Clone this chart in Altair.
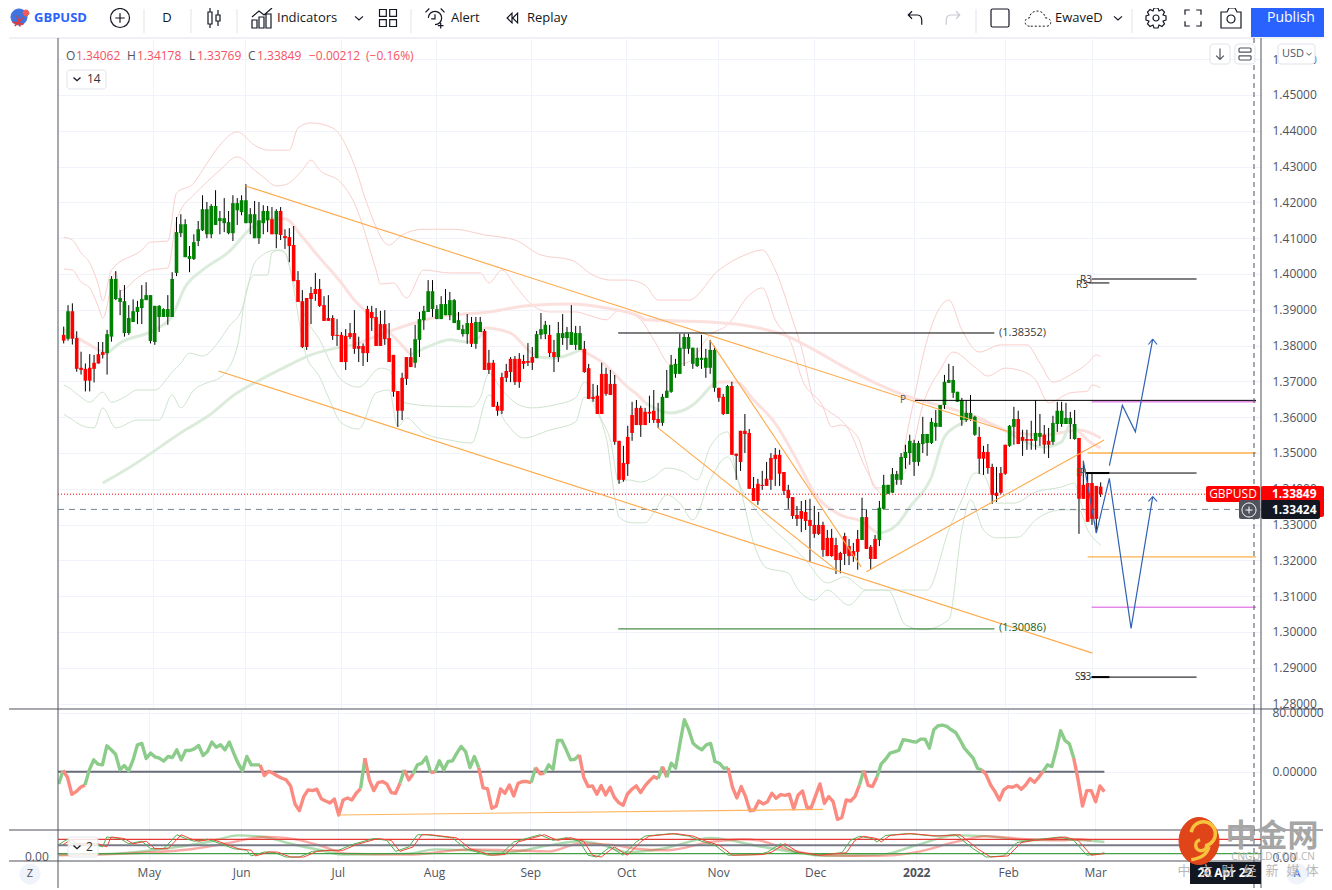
import json
import altair as alt
import pandas as pd

FONT = "Open Sans"
AXC = "#50535e"
GRID = "#f0f3fa"

# ---------- candles (prices x 10000) ----------
high = [13853,13913,13918,13840,13783,13750,13776,13774,13810,13810,
13844,13994,14008,13955,13969,13913,13929,13925,13969,13977,
13941,13911,13913,13904,13941,14005,14159,14167,14153,14078,
14111,14148,14220,14201,14195,14234,14176,14212,14176,14220,
14212,14220,14251,14184,14204,14201,14192,14190,14187,14181,
14187,14125,14128,14134,14008,13955,13933,13964,14003,13986,
13938,13941,13885,13874,13838,13846,13863,13899,13825,13806,
13911,13911,13905,13897,13899,13863,13774,13673,13724,13768,
13793,13858,13894,13911,13983,13983,13913,13938,13958,13950,
13930,13894,13858,13888,13880,13880,13880,13846,13788,13760,
13643,13724,13749,13768,13771,13779,13774,13807,13796,13841,
13891,13869,13858,13816,13866,13888,13852,13913,13855,13855,
13813,13749,13693,13690,13752,13738,13732,13718,13534,13520,
13576,13643,13648,13632,13626,13660,13676,13640,13665,13732,
13774,13763,13833,13833,13833,13794,13794,13830,13791,13816,
13799,13682,13665,13690,13699,13498,13562,13609,13567,13433,
13428,13450,13475,13500,13514,13509,13447,13411,13377,13352,
13366,13369,13372,13352,13335,13308,13285,13288,13263,13224,
13277,13260,13249,13285,13375,13341,13243,13271,13366,13439,
13411,13458,13450,13500,13523,13551,13537,13534,13601,13553,
13598,13620,13634,13718,13749,13743,13671,13654,13648,13662,
13604,13573,13520,13525,13470,13461,13461,13523,13578,13629,
13618,13565,13565,13590,13648,13609,13578,13570,13604,13643,
13643,13640,13615,13620,13542,13478,13442,13442,13408,13418]
body_top = [13830,13896,13896,13821,13738,13735,13738,13752,13776,13782,
13832,13986,13986,13933,13924,13877,13896,13908,13930,13941,
13941,13911,13911,13902,13902,13986,14117,14139,14139,14050,
14089,14125,14181,14181,14190,14190,14156,14156,14145,14198,
14198,14206,14206,14167,14167,14150,14176,14176,14153,14176,
14176,14106,14103,14081,13983,13924,13933,13947,13958,13958,
13913,13877,13877,13830,13830,13827,13835,13835,13799,13799,
13902,13894,13880,13860,13860,13821,13774,13673,13710,13768,
13768,13818,13874,13897,13952,13952,13902,13916,13916,13927,
13927,13871,13846,13863,13863,13866,13866,13841,13752,13752,
13632,13712,13729,13763,13763,13763,13757,13757,13768,13832,
13846,13858,13830,13782,13835,13835,13838,13838,13835,13835,
13791,13737,13657,13660,13721,13721,13693,13693,13534,13472,
13545,13606,13626,13626,13615,13615,13618,13595,13657,13674,
13746,13749,13794,13824,13824,13794,13766,13766,13766,13788,
13788,13682,13657,13687,13687,13498,13562,13562,13556,13402,
13414,13411,13428,13486,13495,13495,13447,13397,13377,13327,
13338,13335,13313,13299,13299,13299,13263,13263,13243,13221,
13268,13240,13226,13260,13321,13321,13238,13260,13347,13411,
13411,13441,13441,13489,13503,13534,13528,13528,13553,13553,
13587,13584,13634,13699,13704,13704,13671,13648,13612,13612,
13601,13545,13503,13503,13461,13389,13444,13523,13576,13595,
13595,13545,13539,13539,13556,13556,13551,13534,13584,13618,
13618,13598,13598,13581,13542,13411,13416,13416,13408,13406]
body_bottom = [13814,13819,13819,13735,13732,13702,13702,13735,13750,13774,
13779,13825,13930,13922,13835,13835,13866,13894,13905,13927,
13813,13810,13880,13880,13880,13880,14003,14114,14047,14042,
14042,14092,14122,14111,14111,14137,14148,14142,14114,14114,
14178,14173,14142,14142,14100,14100,14142,14150,14111,14111,
14109,14100,14078,13980,13922,13796,13796,13930,13944,13911,
13869,13869,13827,13827,13754,13754,13824,13791,13791,13779,
13779,13877,13799,13799,13818,13754,13671,13618,13618,13707,
13740,13752,13816,13871,13894,13902,13874,13874,13885,13885,
13863,13844,13832,13832,13805,13805,13838,13732,13732,13629,
13618,13618,13710,13726,13698,13698,13749,13752,13752,13765,
13830,13832,13779,13768,13768,13821,13821,13802,13802,13788,
13726,13651,13651,13609,13609,13665,13662,13531,13425,13425,
13469,13556,13578,13578,13578,13610,13592,13584,13584,13654,
13671,13721,13721,13791,13791,13749,13743,13760,13738,13738,
13682,13654,13609,13609,13495,13492,13475,13553,13400,13366,
13366,13408,13408,13425,13483,13442,13394,13374,13324,13316,
13316,13310,13296,13274,13274,13229,13212,13212,13201,13201,
13218,13212,13212,13224,13257,13232,13204,13204,13257,13344,
13386,13389,13425,13425,13486,13500,13475,13475,13525,13528,
13528,13573,13573,13634,13696,13668,13643,13592,13592,13595,
13551,13484,13484,13458,13383,13380,13389,13442,13520,13573,
13525,13534,13534,13534,13534,13545,13523,13523,13531,13581,
13581,13581,13581,13539,13372,13372,13308,13316,13316,13385]
low = [13806,13814,13803,13727,13719,13672,13672,13697,13750,13764,
13719,13811,13927,13885,13825,13830,13866,13860,13860,13927,
13806,13802,13838,13880,13858,13880,13994,14103,14047,14005,
14039,14078,14120,14100,14100,14137,14111,14117,14111,14092,
14137,14164,14142,14111,14100,14084,14111,14117,14111,14072,
14095,14070,14033,13980,13922,13793,13788,13860,13925,13908,
13869,13869,13816,13799,13754,13732,13818,13777,13754,13743,
13754,13841,13799,13799,13802,13754,13657,13573,13592,13690,
13740,13738,13768,13844,13894,13880,13874,13874,13885,13871,
13863,13844,13825,13805,13796,13791,13838,13732,13721,13629,
13604,13609,13698,13698,13690,13682,13735,13743,13732,13765,
13818,13818,13768,13726,13754,13802,13788,13802,13788,13788,
13724,13651,13643,13609,13609,13660,13662,13523,13414,13420,
13436,13534,13579,13545,13578,13584,13584,13570,13576,13654,
13668,13710,13721,13743,13777,13735,13740,13735,13710,13721,
13671,13643,13606,13609,13495,13425,13450,13500,13400,13366,
13355,13397,13408,13397,13408,13408,13383,13344,13316,13296,
13279,13285,13196,13263,13271,13210,13212,13210,13162,13164,
13187,13187,13196,13174,13257,13232,13174,13204,13240,13344,
13386,13389,13411,13411,13456,13467,13436,13464,13500,13492,
13525,13534,13573,13623,13696,13654,13643,13576,13587,13590,
13548,13442,13439,13442,13358,13363,13386,13439,13517,13523,
13525,13492,13509,13509,13509,13520,13498,13486,13523,13559,
13573,13581,13539,13537,13274,13372,13308,13299,13277,13377]
candle_colors = (["#ff0000"]*1+["#008000"]*1+["#ff0000"]*8+["#008000"]*38+["#ff0000"]*1+["#008000"]*1
    +["#ff0000"]*31+["#008000"]*13+["#ff0000"]*1+["#008000"]*2+["#ff0000"]*12+["#008000"]*3+["#ff0000"]*2
    +["#008000"]*6+["#ff0000"]*18+["#008000"]*13+["#ff0000"]*2+["#008000"]*1+["#ff0000"]*30+["#008000"]*1
    +["#ff0000"]*3+["#008000"]*23+["#ff0000"]*7+["#008000"]*2+["#ff0000"]*4+["#008000"]*2+["#ff0000"]*2
    +["#008000"]*6+["#ff0000"]*6)

# ---------- envelope lines: bar number, price x 10000 ----------
up_out_b = [0,2,4,6,8,9,11,18,20,24,26,30,32,36,40,44,47,52,54,57,62,67,70,75,78,83,90,97,104,110,117,122,126,130,134,137,144,151,157,161,164,168,170,173,176,181,185,189,192,195,199,204,207,211,216,222,225,228,232,236,238,239]
up_out_p = [14103,14095,14059,14031,13969,13925,14011,14067,14089,14092,14226,14254,14290,14360,14397,14360,14346,14346,14408,14422,14408,14304,14193,14081,14109,14125,14125,14109,14095,14053,14039,13997,13983,13983,13969,13927,13927,14011,14053,14067,14011,13872,13796,13648,13620,13564,13453,13383,13425,13592,13816,13927,13844,13782,13802,13802,13751,13698,13718,13751,13774,13768]
up_in_b = [0,2,4,6,8,9,12,13,17,20,24,26,27,30,33,36,40,44,46,49,51,55,57,59,64,67,72,73,76,79,83,89,96,98,101,104,108,112,118,121,125,128,133,136,140,144,149,153,158,161,164,168,170,175,177,179,183,185,187,191,195,198,202,205,210,213,217,220,224,227,232,236,237,239]
up_in_p = [14014,14011,13978,13961,13908,13877,14006,13953,13989,14011,14017,14151,14179,14221,14257,14290,14327,14290,14271,14246,14249,14290,14318,14290,14254,14198,14011,13972,13975,13933,14011,14003,14003,13975,14011,13969,13913,13894,13894,13885,13872,13899,13872,13816,13746,13754,13830,13858,13941,13961,13872,13796,13712,13629,13573,13578,13545,13472,13402,13411,13481,13634,13732,13782,13740,13715,13737,13732,13704,13640,13668,13673,13690,13682]
lo_in_b = [0,1,4,6,9,11,14,17,21,25,27,29,32,36,38,41,44,45,49,51,53,56,59,62,64,68,73,75,78,85,94,96,98,101,105,108,113,118,120,124,126,128,130,133,136,139,143,146,149,153,155,159,162,167,171,176,180,185,192,199,204,207,210,212,215,219,224,230,233,234,236,239]
lo_in_p = [13690,13684,13656,13642,13670,13642,13656,13676,13676,13726,13751,13779,13771,13816,13852,13899,14031,14045,14067,14059,13975,13872,13816,13740,13704,13684,13737,13732,13642,13631,13629,13654,13723,13676,13634,13626,13634,13654,13698,13592,13536,13416,13425,13419,13433,13458,13447,13425,13517,13559,13444,13349,13305,13249,13201,13137,13154,13117,13117,13117,13285,13369,13444,13439,13360,13360,13391,13405,13416,13377,13321,13299]
lo_out_b = [0,1,5,7,9,12,17,22,25,27,30,33,36,40,42,44,47,48,50,51,56,59,61,64,68,72,75,77,79,83,89,94,98,102,106,112,118,120,125,127,128,131,134,136,139,142,145,149,153,156,159,162,167,169,173,176,181,185,190,194,198,204,207,209,212,215,220,224,230,234,236,239]
lo_out_p = [13609,13601,13573,13570,13626,13570,13592,13592,13662,13626,13676,13696,13710,13796,13947,13997,13997,14059,14067,14059,13768,13712,13656,13584,13567,13668,13676,13573,13598,13556,13536,13528,13662,13584,13542,13564,13587,13656,13545,13377,13321,13305,13305,13333,13383,13360,13313,13425,13489,13397,13249,13179,13165,13123,13089,13117,13075,13117,13117,13020,13006,13034,13285,13369,13285,13263,13265,13313,13341,13341,13285,13243]

# mid line, alternating pink / green stretches
mid_pink = [
    ([0,4,8,10],[13844,13816,13788,13777]),
    ([47,51,55,59,64,67,70,75,80],[14154,14154,14103,14045,13975,13927,13891,13838,13774]),
    ([96,97,103,107,109],[13825,13849,13835,13788,13768]),
    ([119,124,130,133,134],[13788,13754,13684,13654,13640]),
    ([149,151,155,159,164,169,173,179,184,187],[13685,13698,13698,13648,13583,13480,13388,13327,13308,13280]),
    ([209,212,218],[13600,13590,13556]),
    ([234,236,239],[13560,13536,13514]),
]
mid_green = [
    ([10,13,21,25,28,32,38,44,47],[13777,13807,13844,13883,13964,14011,14061,14137,14154]),
    ([80,85,89,93,96],[13774,13802,13816,13810,13825]),
    ([109,113,119],[13768,13765,13788]),
    ([134,140,145,149],[13640,13612,13634,13685]),
    ([187,188,192,195,200,203,207,209],[13280,13277,13299,13349,13433,13545,13584,13600]),
    ([218,226,230,232,234],[13556,13517,13531,13578,13560]),
]
long_green_b = [9,16,28,33,40,44,51,57,67]
long_green_p = [13416,13466,13564,13601,13668,13696,13740,13774,13802]
long_pink_b = [67,76,86,98,108,117,125,133,134,149,156,166,173,179,187,195,203,211,218,226,234,239]
long_pink_p = [13802,13844,13880,13894,13913,13916,13905,13880,13872,13866,13858,13830,13788,13746,13696,13656,13629,13598,13559,13550,13564,13542]

# ---------- drawn objects: bar, bar2, price, price2 ----------
trend_lines = [(41.9,217.4,14246,13561),(35.7,237.1,13729,12941),(185,239.8,13168,13536),
               (149,183.8,13814,13182),(136.9,178.1,13571,13173)]
levels = [(127.8,214.5,1.38352,"#000000",1),(127.8,214.5,1.30086,"#1b6e1b",1),
          (236,274.8,1.35000,"#ffb04a",1.5),(236,274.8,1.32100,"#ffb04a",1.3),
          (236.9,274.8,1.30690,"#e48ae8",1.5),(236.9,274.8,1.36440,"#e48ae8",2),
          (196.2,274.8,1.36470,"#000000",1),(235.5,261.1,1.34440,"#000000",1),(235.5,241,1.34440,"#000000",2),
          (236.9,261.1,1.39860,"#000000",1),(236.2,241,1.39750,"#000000",1),
          (236.9,261.1,1.28740,"#000000",1),(236.9,241,1.28740,"#000000",2)]
wave_a_b = [241,244,247,251]
wave_a_p = [13465,13633,13559,13818]
wave_b_b = [235,238,241,246,251]
wave_b_p = [13478,13276,13429,13010,13378]
arrow_heads = [(250,251,13803,13818),(252,251,13803,13818),(250,251,13365,13378),(252,251,13365,13378)]

# ---------- oscillator ----------
osc_values = [-16.3,1.8,-7.3,-30.3,-26.7,-20.8,-17.7,2.7,16.2,10.4,9.5,35.2,29.8,23.9,2.7,8.6,1.3,16.2,36.6,38.4,
18,25.3,20.3,18.5,14.4,20.8,19.4,29.8,16.2,28.9,28.9,31.2,35.7,22.1,27.5,40.2,33.4,36.6,29.8,40.2,
25.3,11.7,1.3,20.8,9.5,9.5,9.5,-5,0.9,-1.8,-5.5,-8.6,-10.9,-19,-43.4,-52.5,-33.5,-24.4,-25.3,-23.5,
-36.2,-39.4,-42,-36.6,-58.3,-38,-35.3,-38,-28.9,-22.6,18.5,-10.9,-25.3,-14.5,-13.1,-16.3,-28,-28.9,-15.4,2.7,
-10.9,-2.7,9.5,11.7,19.9,-0.9,0,14.9,2.7,14,14.9,25.3,34.3,27.5,5.8,20.8,5.8,-21.7,-22.6,-49.3,
-46.1,-23.1,-28.9,-17.7,-32.6,-15.4,-13.1,-13.1,-14.5,5.8,-2.7,-1.8,9.5,3.6,42.5,42.5,29.8,16.2,17.1,23,
-7.3,-19.9,-19,-30.3,-18.6,-31.2,-20.8,-34.4,-41.6,-45.2,-29.9,-23.5,-19,-28,-19,-12.2,-6.4,-9.1,7.2,-7.3,
11.7,4.9,38.8,70.5,56.9,38.8,33.4,29.8,36.6,38.4,14,11.7,4.9,5.4,-20.8,-35.3,-19.9,-33.5,-52.5,-51.6,
-39.4,-43.4,-40.3,-28.9,-35.7,-30.8,-31.7,-30.3,-50.2,-31.2,-25.8,-47.9,-48.4,-32.1,-16.3,-42.5,-33.5,-40.3,-64.2,-61.5,
-38,-39.4,-33.5,-18.1,1.8,-18.1,-19.9,-7.3,10.8,17.1,25.3,27.1,28.9,43.4,42.5,41.1,40.2,44.3,44.3,32.1,
56.9,62.3,63.2,61.4,56.9,53.3,43.4,32.1,25.3,18.5,4.9,2.7,-4.1,-17.7,-26.7,-38,-24.4,-19.9,-20.8,-18.1,
-23.5,-17.7,-9.1,-14.1,-7.3,0.9,9.5,7.2,29.8,55.6,42.5,37.9,18.5,-10.9,-46.1,-25.3,-25.3,-40.3,-19,-26.7]
osc_stretches = [(0,1,"g"),(1,6,"r"),(6,46,"g"),(46,69,"r"),(69,70,"g"),(70,78,"r"),(78,79,"g"),(79,81,"r"),
                 (81,85,"g"),(85,86,"r"),(86,96,"g"),(96,108,"r"),(108,109,"g"),(109,111,"r"),(111,119,"g"),
                 (119,137,"r"),(137,138,"g"),(138,139,"r"),(139,153,"g"),(153,183,"r"),(183,184,"g"),
                 (184,187,"r"),(187,211,"g"),(211,225,"r"),(225,232,"g"),(232,239,"r")]

# ---------- stochastic ----------
fast_b = [0,2,3,8,10,11,14,16,19,21,24,27,29,31,34,37,40,43,44,47,49,52,55,58,61,64,67,72,75,77,80,82,84,90,93,98,101,104,110,113,116,119,121,123,126,129,132,134,140,144,147,150,153,160,162,165,168,173,179,181,183,186,187,189,194,200,205,209,212,216,219,222,229,232,235,238,239]
fast_v = [57,81,61,61,47,91,84,61,72,39,39,101,84,72,81,61,39,32,7,24,24,2,2,27,32,32,57,84,76,27,47,101,101,87,39,10,13,69,101,76,88,72,10,2,47,10,69,95,106,95,72,54,10,13,24,61,24,10,21,76,94,84,69,98,106,95,101,39,2,7,66,76,91,76,10,17,21]
fast_red_b = [1,3,4,9,11,12,15,17,20,22,25,28,30,32,35,38,41,44,45,48,50,53,56,59,62,65,68,73,76,78,81,83,85,91,94,99,102,105,111,114,117,120,122,124,127,130,133,135,141,145,148,151,154,161,163,166,169,174,180,182,184,187,188,190,195,201,206,210,213,217,220,223,230,233,236,239]
fast_red_v = [57,81,61,61,47,91,84,61,72,39,39,101,84,72,81,61,39,32,7,24,24,2,2,27,32,32,57,84,76,27,47,101,101,87,39,10,13,69,101,76,88,72,10,2,47,10,69,95,106,95,72,54,10,13,24,61,24,10,21,76,94,84,69,98,106,95,101,39,2,7,66,76,91,76,10,17]
slow_green_b = [0,13,23,35,41,47,53,60,65,80,86,94,103,112,119,124,130,138,149,160,168,175,188,196,205,212,221,229,239]
slow_green_v = [13,17,36,72,98,91,61,32,13,17,36,32,24,54,72,57,24,39,87,50,24,7,13,54,98,95,76,81,69]
slow_red_b = [0,15,31,38,47,52,60,66,80,94,103,112,119,126,132,139,149,156,160,166,175,187,196,205,212,221,229,233,236]
slow_red_v = [10,17,39,61,91,87,51,17,13,36,32,27,61,57,39,32,69,81,76,39,10,7,24,69,95,81,76,81,76]

# ---------- axes ----------
month_bars = [20.6,41.7,63.8,85.8,107.8,129.7,150.7,172.9,196,217,236.9]
month_labels = ["May","Jun","Jul","Aug","Sep","Oct","Nov","Dec","2022","Feb","Mar"]
price_ticks = [1.28,1.29,1.30,1.31,1.32,1.33,1.34,1.35,1.36,1.37,1.38,1.39,1.40,1.41,1.42,1.43,1.44,1.45,1.46]

W = 1203
X0 = 58
xscale = alt.Scale(domain=[-0.16, 274.8], nice=False, zero=False)
one = alt.Data(values=[{"a": 1}])

grid_x = alt.Axis(values=month_bars, labels=False, ticks=False, domain=False, grid=True, gridColor=GRID, title=None)
label_expr = f"{json.dumps(month_labels)}[indexof({json.dumps(month_bars)}, datum.value)]"
time_x = alt.Axis(values=month_bars, labelExpr=label_expr, ticks=False, domain=False, grid=True, gridColor=GRID,
                  labelFontSize=12, labelFont=FONT, labelColor=AXC, labelPadding=6, labelOverlap=False,
                  labelFlush=False, title=None,
                  labelFontWeight={"condition": {"test": "datum.value === 196", "value": "bold"}, "value": "normal"})

def right_axis(values, fmt, grid=True):
    return alt.Axis(orient="right", values=values, format=fmt, grid=grid, gridColor=GRID, domain=False, ticks=False,
                    labelPadding=11, labelFontSize=12, labelFont=FONT, labelColor=AXC, title=None)

MAIN = dict(scale=alt.Scale(domain=[1.27849, 1.46592], nice=False, zero=False), xa=grid_x, ya=right_axis(price_ticks, ".5f"))
OSC = dict(scale=alt.Scale(domain=[-78.6, 85.0], nice=False, zero=False), xa=grid_x, ya=right_axis([0, 80], ".5f"))
STO = dict(scale=alt.Scale(domain=[-15.6, 122], nice=False, zero=False), xa=time_x, ya=right_axis([0], ".2f", False))

def X(panel, field="bar:Q"):
    return alt.X(field, scale=xscale, axis=panel["xa"], title=None)

def Y(panel, field="val:Q"):
    return alt.Y(field, scale=panel["scale"], axis=panel["ya"], title=None)

def ln(b, v, panel, color, width=1.0, opacity=1.0, **kw):
    df = pd.DataFrame({"bar": b, "val": v})
    return alt.Chart(df).mark_line(color=color, strokeWidth=width, opacity=opacity, clip=True, **kw).encode(
        x=X(panel), y=Y(panel))

def price(vals):
    return [p / 10000 for p in vals]

def txt(s, x, y, oy, size=13, color="#131722", align="left", weight="normal", font=FONT, opacity=1.0):
    return alt.Chart(one).mark_text(text=s, fontSize=size, color=color, align=align, baseline="middle",
                                    fontWeight=weight, font=font, opacity=opacity).encode(
        x=alt.value(x - X0), y=alt.value(y - oy))

def box(x1, y1, x2, y2, oy, fill, stroke=None, radius=0, opacity=1.0):
    kw = {"fill": fill, "cornerRadius": radius, "opacity": opacity}
    if stroke:
        kw["stroke"] = stroke
        kw["strokeWidth"] = 1
    return alt.Chart(one).mark_rect(**kw).encode(
        x=alt.value(x1 - X0), x2=alt.value(x2 - X0), y=alt.value(y1 - oy), y2=alt.value(y2 - oy))

def hrule(x1, x2, y, oy, color, width=1):
    return alt.Chart(one).mark_rule(color=color, strokeWidth=width).encode(
        x=alt.value(x1 - X0), x2=alt.value(x2 - X0), y=alt.value(y - oy))

def vrule(x, y1, y2, oy, color, width=1, dash=None):
    kw = {"strokeDash": dash} if dash else {}
    return alt.Chart(one).mark_rule(color=color, strokeWidth=width, **kw).encode(
        x=alt.value(x - X0), y=alt.value(y1 - oy), y2=alt.value(y2 - oy))

def icon(path, x, y, oy, px, color="#131722", sw=1.2, filled=False, dash=None):
    kw = {"strokeDash": dash} if dash else {}
    if filled:
        kw["fill"] = color
        kw["filled"] = True
    else:
        kw["filled"] = False
    return alt.Chart(one).mark_point(shape=path, size=px * px, stroke=color, strokeWidth=sw, opacity=1, **kw).encode(
        x=alt.value(x - X0), y=alt.value(y - oy))

CIRCLE = "M-1 0A1 1 0 1 1 1 0A1 1 0 1 1 -1 0Z"
CIRCLE_PLUS = CIRCLE + " M-0.5 0L0.5 0 M0 -0.5L0 0.5"
CHEV = "M-1 -0.4L0 0.5L1 -0.4"
ROUND = "M-0.8 -1H0.8Q1 -1 1 -0.8V0.8Q1 1 0.8 1H-0.8Q-1 1 -1 0.8V-0.8Q-1 -1 -0.8 -1Z"

# ---------- toolbar panel ----------
T = 8
toolbar = [
    box(8, 8, 1324, 38, T, "#ffffff"),
    hrule(9, 1323, 38, T, "#e0e3eb"),
    icon(CIRCLE, 19, 17, T, 16, "#3f74e0", 1, True),
    icon("M-1 0.2L1 0.6 M-0.2 -1L0.4 1 M-0.6 0.9L0.9 -0.6", 18, 21, T, 11, "#e53935", 1.6),
    icon(CIRCLE, 26, 13, T, 6, "#f05a5a", 1, True),
    txt("GBPUSD", 34, 18, T, 13, "#2962ff", weight="bold"),
    icon(CIRCLE_PLUS, 120, 18, T, 19),
    txt("D", 167, 18, T, 13, "#131722", "center"),
    icon("M-0.6 -0.6H-0.2V0.6H-0.6Z M-0.4 -1V-0.6 M-0.4 0.6V1 M0.2 -0.3H0.6V0.3H0.2Z M0.4 -0.8V-0.3 M0.4 0.3V0.8", 214, 18, T, 20),
    icon("M-1 1V0.2H-0.5V1Z M-0.3 1V-0.1H0.2V1Z M0.4 1V-0.4H0.9V1Z M-1 -0.1L-0.3 -0.7L0.2 -0.3L1 -1", 262, 18, T, 20),
    txt("Indicators", 277, 18, T, 13),
    icon(CHEV, 359, 18, T, 8),
    icon("M-1 -1H-0.2V-0.2H-1Z M0.2 -1H1V-0.2H0.2Z M-1 0.2H-0.2V1H-1Z M0.2 0.2H1V1H0.2Z", 388, 18, T, 17),
    icon("M-0.7 0A0.7 0.7 0 1 1 0.7 0A0.7 0.7 0 0 1 0 0.7 M0 -0.4V0.1H-0.4 M-1 -0.6L-0.6 -1 M1 -0.6L0.6 -1 M0.6 0.5V1.1 M0.3 0.8H0.9", 435, 18, T, 19),
    txt("Alert", 451, 18, T, 13),
    icon("M0 -0.7L-0.7 0L0 0.7Z M0.8 -0.7L0.1 0L0.8 0.7Z", 512, 18, T, 14),
    txt("Replay", 527, 18, T, 13),
    icon("M-0.4 -0.9L-0.9 -0.4L-0.4 0.1 M-0.9 -0.4H0.3C0.8 -0.4 0.9 0 0.9 0.4V0.9", 915, 18, T, 15),
    icon("M0.4 -0.9L0.9 -0.4L0.4 0.1 M0.9 -0.4H-0.3C-0.8 -0.4 -0.9 0 -0.9 0.4V0.9", 953, 18, T, 15, "#c8cad2"),
    icon(ROUND, 1000, 18, T, 18),
    icon("M-0.7 0.6C-1.2 0.6 -1.2 -0.1 -0.7 -0.1C-0.7 -0.8 0.5 -0.9 0.6 -0.1C1.2 -0.1 1.2 0.6 0.7 0.6Z", 1038, 19, T, 24, "#131722", 1, dash=[2, 2]),
    txt("EwaveD", 1055, 18, T, 13),
    icon(CHEV, 1118, 18, T, 8),
    icon("M-0.2 -1H0.2L0.3 -0.7L0.6 -0.85L0.85 -0.6L0.7 -0.3L1 -0.2V0.2L0.7 0.3L0.85 0.6L0.6 0.85L0.3 0.7L0.2 1H-0.2L-0.3 0.7L-0.6 0.85L-0.85 0.6L-0.7 0.3L-1 0.2V-0.2L-0.7 -0.3L-0.85 -0.6L-0.6 -0.85L-0.3 -0.7Z M0.3 0A0.3 0.3 0 1 1 -0.3 0A0.3 0.3 0 1 1 0.3 0Z", 1156, 18, T, 20),
    icon("M-1 -0.4V-1H-0.4 M0.4 -1H1V-0.4 M1 0.4V1H0.4 M-0.4 1H-1V0.4", 1193, 18, T, 16),
    icon("M-1 -0.6H-0.4L-0.2 -1H0.4L0.6 -0.6H1V1H-1Z M0.4 0.1A0.4 0.4 0 1 1 -0.4 0.1A0.4 0.4 0 1 1 0.4 0.1Z", 1231, 18, T, 20),
    box(1251, 8, 1324, 37, T, "#2962ff"),
    txt("Publish", 1291, 18, T, 14, "#ffffff", "center"),
]
for sx in [144, 191, 237, 411, 976, 1132]:
    toolbar.append(vrule(sx, 9, 33, T, "#e0e3eb"))
toolbar_panel = alt.layer(*toolbar).properties(width=W, height=38 - T)

# ---------- main price panel (page y 38..709) ----------
M = 38
df_candles = pd.DataFrame({"bar": list(range(len(high))), "high": price(high), "low": price(low),
                           "top": price(body_top), "bottom": price(body_bottom), "color": candle_colors})

PINK = "#f9cfcc"
GREEN = "#cfe4cf"
THICK_G = "#dcecdc"
THICK_P = "#fbe0de"
smooth = dict(interpolate="monotone")
layers = [ln(up_out_b, price(up_out_p), MAIN, PINK, **smooth), ln(up_in_b, price(up_in_p), MAIN, PINK, **smooth),
          ln(lo_in_b, price(lo_in_p), MAIN, GREEN, **smooth), ln(lo_out_b, price(lo_out_p), MAIN, GREEN, **smooth),
          ln(long_green_b, price(long_green_p), MAIN, THICK_G, 3, **smooth),
          ln(long_pink_b, price(long_pink_p), MAIN, THICK_P, 3, **smooth)]
for b, p in mid_green:
    layers.append(ln(b, price(p), MAIN, THICK_G, 3, **smooth))
for b, p in mid_pink:
    layers.append(ln(b, price(p), MAIN, THICK_P, 3, **smooth))

layers += [
    alt.Chart(pd.DataFrame({"v": [1.33849]})).mark_rule(color="#ff0000", strokeWidth=1, strokeDash=[1, 2]).encode(
        x=alt.value(0), x2=alt.value(W), y=Y(MAIN, "v:Q")),
    alt.Chart(pd.DataFrame({"v": [1.33424]})).mark_rule(color="#758696", strokeWidth=1, strokeDash=[6, 5]).encode(
        x=alt.value(0), x2=alt.value(W), y=Y(MAIN, "v:Q")),
    alt.Chart(df_candles).mark_rule(color="#000000", strokeWidth=1, clip=True).encode(
        x=X(MAIN), y=Y(MAIN, "high:Q"), y2="low:Q"),
    alt.Chart(df_candles).mark_bar(size=3.6, clip=True).encode(
        x=X(MAIN), y=Y(MAIN, "top:Q"), y2="bottom:Q",
        color=alt.Color("color:N", scale=None, legend=None)),
]

df_trend = pd.DataFrame(trend_lines, columns=["bar", "bar2", "p", "p2"])
df_trend["p"] /= 10000
df_trend["p2"] /= 10000
layers.append(alt.Chart(df_trend).mark_rule(color="#ffa94a", strokeWidth=1.1, clip=True).encode(
    x=X(MAIN), x2="bar2:Q", y=Y(MAIN, "p:Q"), y2="p2:Q"))
df_lv = pd.DataFrame(levels, columns=["bar", "bar2", "p", "c", "w"])
layers.append(alt.Chart(df_lv).mark_rule(clip=True).encode(
    x=X(MAIN), x2="bar2:Q", y=Y(MAIN, "p:Q"),
    color=alt.Color("c:N", scale=None, legend=None),
    strokeWidth=alt.StrokeWidth("w:Q", scale=None, legend=None)))
layers += [ln(wave_a_b, price(wave_a_p), MAIN, "#2f62b4", 1.2), ln(wave_b_b, price(wave_b_p), MAIN, "#2f62b4", 1.2)]
df_ah = pd.DataFrame(arrow_heads, columns=["bar", "bar2", "p", "p2"])
df_ah["p"] /= 10000
df_ah["p2"] /= 10000
layers.append(alt.Chart(df_ah).mark_rule(color="#2f62b4", strokeWidth=1.1).encode(
    x=X(MAIN), x2="bar2:Q", y=Y(MAIN, "p:Q"), y2="p2:Q"))
layers.append(vrule(1254, 38, 709, M, AXC, 1, [5, 4]))

G = "#50535e"
R = "#f7525f"
layers += [
    txt("(1.38352)", 999, 333, M, 11, "#3a3a3a"),
    txt("(1.30086)", 999, 628, M, 11, "#1b5e20"),
    txt("P", 900, 400, M, 10, "#555555"),
    txt("P", 1076, 473, M, 10, "#555555"),
    txt("P", 1080, 473, M, 10, "#555555"),
    txt("R3", 1080, 280, M, 10, "#333333"),
    txt("R3", 1076, 285, M, 10, "#333333"),
    txt("S3", 1075, 677, M, 10, "#333333"),
    txt("S3", 1080, 677, M, 10, "#333333"),
    txt("O", 66, 56, M, 12, G), txt("1.34062", 76, 56, M, 12, R),
    txt("H", 127, 56, M, 12, G), txt("1.34178", 137, 56, M, 12, R),
    txt("L", 189, 56, M, 12, G), txt("1.33769", 197, 56, M, 12, R),
    txt("C", 248, 56, M, 12, G), txt("1.33849", 257, 56, M, 12, R),
    txt("\u22120.00212", 309, 56, M, 12, R), txt("(\u22120.16%)", 366, 56, M, 12, R),
    box(67, 70, 106, 89, M, "#ffffff", "#e0e3eb", 3),
    icon(CHEV, 77, 79, M, 7, "#131722", 1.3),
    txt("14", 87, 79, M, 12, "#333333"),
    box(1210, 44, 1230, 64, M, "#ffffff", "#e0e3eb", 3),
    icon("M0 -1V1 M-0.7 0.3L0 1L0.7 0.3", 1220, 54, M, 11, "#50535e"),
    box(1235, 44, 1255, 64, M, "#ffffff", "#e0e3eb", 3),
    icon("M-1 -0.3V-0.8Q-1 -1 -0.8 -1H0.8Q1 -1 1 -0.8V-0.3 M-1 0.3V0.8Q-1 1 -0.8 1H0.8Q1 1 1 0.8V0.3 M-1 -0.3H1 M-1 0.3H1", 1245, 54, M, 12, "#50535e"),
    box(1278, 44, 1315, 64, M, "#ffffff", "#e0e3eb", 3),
    txt("USD", 1282, 54, M, 11, G),
    icon(CHEV, 1309, 54, M, 5, G, 1),
    box(1206, 486, 1260, 502, M, "#ff0000", None, 2),
    txt("GBPUSD", 1233, 494, M, 12, "#ffffff", "center"),
    box(1261, 486, 1324, 517, M, "#ff0000", None, 2),
    txt("1.33849", 1272, 494, M, 12, "#ffffff", weight="bold"),
    box(1239, 500, 1260, 519, M, AXC, None, 2),
    icon(CIRCLE_PLUS, 1249, 510, M, 14, "#ffffff", 1),
    box(1261, 500, 1320, 519, M, "#131722", None, 2),
    txt("1.33424", 1272, 510, M, 12, "#ffffff", weight="bold"),
]
main_panel = alt.layer(*layers).properties(width=W, height=671)

# ---------- oscillator panel (page y 709..830) ----------
O = 709
rows = []
for i, (a, b, c) in enumerate(osc_stretches):
    for k in range(a, b + 1):
        rows.append({"bar": k, "val": osc_values[k], "seg": i, "c": "#8ccc8a" if c == "g" else "#fb8a80"})
osc_panel = alt.layer(
    alt.Chart(pd.DataFrame({"bar": [-0.16], "bar2": [239.0], "val": [0.0]})).mark_rule(color="#6a6d78", strokeWidth=2).encode(
        x=X(OSC), x2="bar2:Q", y=Y(OSC)),
    alt.Chart(pd.DataFrame(rows)).mark_line(strokeWidth=3.4, strokeJoin="round", clip=True).encode(
        x=X(OSC), y=Y(OSC), detail="seg:N", color=alt.Color("c:N", scale=None, legend=None)),
    alt.Chart(pd.DataFrame({"bar": [64], "bar2": [174.7], "val": [-58.3], "val2": [-50.7]})).mark_rule(color="#ffb45e", strokeWidth=1.2).encode(
        x=X(OSC), x2="bar2:Q", y=Y(OSC), y2="val2:Q"),
    vrule(1254, 709, 830, O, AXC, 1, [5, 4]),
).properties(width=W, height=121)

# ---------- stochastic panel + time axis (page y 830..861) ----------
S = 830

def shline(v, color, w=1):
    return alt.Chart(pd.DataFrame({"val": [v]})).mark_rule(color=color, strokeWidth=w).encode(
        x=alt.value(0), x2=alt.value(W), y=Y(STO))

stoch_layers = [
    ln(slow_green_b, slow_green_v, STO, "#4caf50", 2.4, 0.45, interpolate="monotone"),
    ln(slow_red_b, slow_red_v, STO, "#f44336", 2.4, 0.45, interpolate="monotone"),
    shline(80.7, "#e53935", 1.2), shline(54, "#787b86", 2), shline(17, "#43a047", 1.2),
    ln(fast_b, fast_v, STO, "#4caf50", 1),
    ln(fast_red_b, fast_red_v, STO, "#f44336", 1),
    box(68, 837, 98, 857, S, "#ffffff", "#e0e3eb", 3, 0.85),
    icon(CHEV, 77, 847, S, 7, "#131722", 1.3),
    txt("2", 86, 847, S, 12, "#333333"),
    txt("0.00", 25, 857, S, 12, G),
    vrule(1254, 830, 888, S, AXC, 1, [5, 4]),
    vrule(58, 38, 888, S, AXC),
    vrule(1261, 38, 888, S, AXC),
    hrule(9, 1323, 709, S, AXC),
    hrule(9, 1323, 830, S, AXC),
    hrule(9, 1261, 861, S, AXC),
    icon(CIRCLE, 30, 874, S, 20, "#f0f3fa", 1, True),
    txt("Z", 30, 874, S, 11, G, "center"),
    icon(CIRCLE, 1297, 874, S, 20, "#f0f3fa", 1, True),
    txt("A", 1297, 874, S, 11, "#2962ff", "center"),
    box(1190, 862, 1261, 884, S, "#131722"),
    txt("20 Apr 22", 1225, 873, S, 12, "#ffffff", "center", "bold"),
    icon("M-0.85 0A0.85 1 0 1 1 0.85 0A0.85 1 0 1 1 -0.85 0Z", 1199, 841, S, 47, "#e0451a", 1, True),
    icon("M0.05 -0.05A0.25 0.25 0 1 0 0.35 0.2A0.55 0.55 0 1 0 -0.35 -0.4 M0.45 0.25Q0.35 0.75 -0.35 0.85", 1199, 841, S, 44, "#f7c23c", 3.5),
    txt("\u4e2d\u91d1\u7f51", 1272, 837, S, 31, "#a6a6a6", "center", "bold", "Noto Sans CJK SC"),
    txt("CNGOLD.COM.CN", 1273, 857, S, 10, "#b5b5b5", "center"),
]
for ch, cx in zip("\u4e2d\u6587\u8d22\u7ecf\u65b0\u5a92\u4f53", [1184, 1206, 1228, 1250, 1272, 1293, 1312]):
    stoch_layers.append(txt(ch, cx, 871, S, 13, "#b8b8b8", "center", font="Noto Sans CJK SC"))
stoch_panel = alt.layer(*stoch_layers).properties(width=W, height=31)

chart = alt.vconcat(toolbar_panel, main_panel, osc_panel, stoch_panel, spacing=0, bounds="flush").properties(
    padding={"left": 0, "top": -3, "right": 0, "bottom": 0}, background="#ffffff").configure_view(stroke=None)

chart.save("out.html", embed_options={"renderer": "svg", "actions": False})
